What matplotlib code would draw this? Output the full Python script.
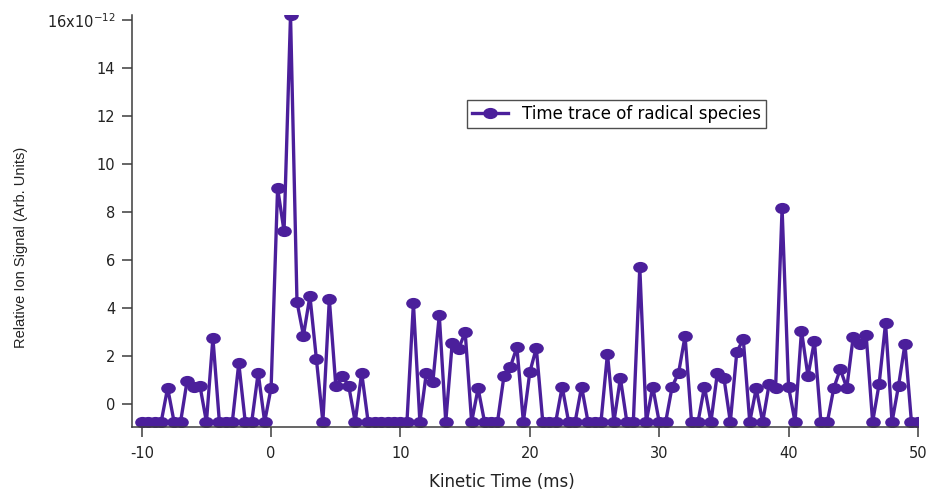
import numpy as np
import matplotlib
matplotlib.use('Agg')
import matplotlib.pyplot as plt
from matplotlib.path import Path
from matplotlib.transforms import Affine2D

plt.rcParams['axes.unicode_minus'] = False

# kinetic time axis (ms), one point every 0.5 ms
time_ms = np.arange(-10, 50.5, 0.5)

# signal in units of 1e-12
signal = [
    -0.75, -0.75, -0.75, -0.75, 0.67, -0.75, -0.75, 0.95, 0.72, 0.75,    # -10 .. -5.5
    -0.75, 2.75, -0.75, -0.75, -0.75, 1.7, -0.75, -0.75, 1.3, -0.75,     # -5 .. -0.5
    0.68, 9.0, 7.2, 16.2, 4.25, 2.85, 4.5, 1.87, -0.75, 4.37,            # 0 .. 4.5
    0.75, 1.17, 0.75, -0.75, 1.3, -0.75, -0.75, -0.75, -0.75, -0.75,     # 5 .. 9.5
    -0.75, -0.75, 4.2, -0.75, 1.3, 0.9, 3.7, -0.75, 2.55, 2.3,           # 10 .. 14.5
    3.0, -0.75, 0.65, -0.75, -0.75, -0.75, 1.17, 1.55, 2.37, -0.75,      # 15 .. 19.5
    1.33, 2.33, -0.75, -0.75, -0.75, 0.72, -0.75, -0.75, 0.72, -0.75,    # 20 .. 24.5
    -0.75, -0.75, 2.1, -0.75, 1.08, -0.75, -0.75, 5.7, -0.75, 0.72,      # 25 .. 29.5
    -0.75, -0.75, 0.72, 1.3, 2.83, -0.75, -0.75, 0.72, -0.75, 1.3,       # 30 .. 34.5
    1.1, -0.75, 2.17, 2.7, -0.75, 0.65, -0.75, 0.83, 0.67, 8.15,         # 35 .. 39.5
    0.72, -0.75, 3.05, 1.17, 2.62, -0.75, -0.75, 0.67, 1.45, 0.67,       # 40 .. 44.5
    2.8, 2.5, 2.87, -0.75, 0.83, 3.37, -0.75, 0.75, 2.5, -0.75,          # 45 .. 49.5
    -0.75,                                                               # 50
]

x_ticks = [-10, 0, 10, 20, 30, 40, 50]
y_ticks = [0, 2, 4, 6, 8, 10, 12, 14, 16]
y_tick_labels = ['0', '2', '4', '6', '8', '10', '12', '14', r'16x10$^{\mathregular{-12}}$']

purple = '#4b1f9b'
axis_col = '#3c3c3c'

# slightly wide oval marker like the original
oval = Path.unit_circle().transformed(Affine2D().scale(1.35, 1.0))

fig = plt.figure(figsize=(9.3, 4.9), dpi=100)
ax = fig.add_axes([0.142, 0.129, 0.845, 0.84])

ax.plot(time_ms, signal, color=purple, lw=2.4, marker=oval, ms=9.5,
        label='Time trace of radical species')

ax.set_xlim(-10.75, 50)
ax.set_ylim(-0.95, 16.2)
ax.set_xticks(x_ticks)
ax.set_yticks(y_ticks)
ax.set_yticklabels(y_tick_labels)

for s in ['top', 'right']:
    ax.spines[s].set_visible(False)
for s in ['left', 'bottom']:
    ax.spines[s].set_color(axis_col)
    ax.spines[s].set_linewidth(1.1)
ax.tick_params(direction='out', length=7, width=1.1, color=axis_col,
               labelsize=10.5, labelcolor='#222222', pad=5)
ax.tick_params(axis='x', pad=7)

ax.set_xlabel('Kinetic Time (ms)', fontsize=12, color='#222222')
ax.xaxis.set_label_coords(0.47, -0.113)
ax.set_ylabel('Relative Ion Signal (Arb. Units)', fontsize=10.5, color='#222222',
              family='Liberation Sans')
ax.yaxis.set_label_coords(-0.132, 0.437)

leg = ax.legend(loc='center', bbox_to_anchor=(0.616, 0.76), fontsize=12,
                frameon=True, fancybox=False, handlelength=2.2, borderpad=0.3)
leg.get_frame().set_edgecolor('#222222')
leg.get_frame().set_linewidth(1.0)

fig.savefig('out.png', dpi=100)
